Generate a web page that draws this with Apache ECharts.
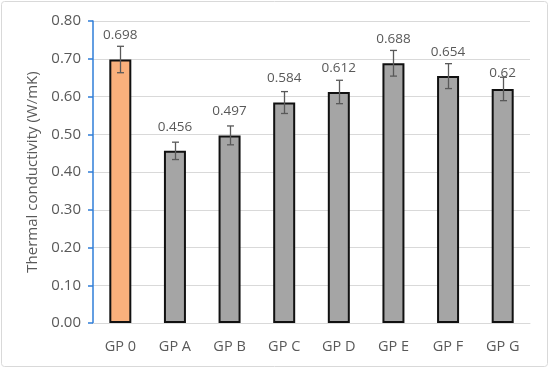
<!DOCTYPE html>
<html><head><meta charset="utf-8">
<script src="https://cdn.jsdelivr.net/npm/echarts@6/dist/echarts.min.js"></script>
<style>html,body{margin:0;padding:0;background:#fff}#c{width:550px;height:369px}</style>
</head><body><div id="c"></div>
<script>
var categories = ['GP 0','GP A','GP B','GP C','GP D','GP E','GP F','GP G'];
var values = [0.698, 0.456, 0.497, 0.584, 0.612, 0.688, 0.654, 0.62];
var errors = [0.035, 0.023, 0.025, 0.029, 0.031, 0.034, 0.033, 0.031];
var labelTexts = ['0.698','0.456','0.497','0.584','0.612','0.688','0.654','0.62'];
var yTicks = [0, 0.1, 0.2, 0.3, 0.4, 0.5, 0.6, 0.7, 0.8];

var chart = echarts.init(document.getElementById('c'), null, {renderer:'canvas'});
var font = 'Open Sans, Liberation Sans, sans-serif';
var barData = values.map(function(v,i){
  return {
    value: v,
    itemStyle: {color: i === 0 ? '#F9B07C' : '#A5A5A5'},
    label: {distance: i === 7 ? 9 : 17}
  };
});
chart.setOption({
  animation: false,
  graphic: [{type:'rect', shape:{x:1.5,y:1.5,width:546,height:365,r:3}, style:{fill:'none', stroke:'#D9D9D9', lineWidth:1}, silent:true}],
  grid: {left: 93, right: 20, top: 21, bottom: 46},
  xAxis: {
    type: 'category', data: categories,
    axisLine: {show: true, lineStyle: {color: '#D9D9D9', width: 1}},
    axisTick: {show: false},
    axisLabel: {color: '#595959', fontSize: 14.5, fontFamily: font, margin: 16}
  },
  yAxis: {
    type: 'value', min: 0, max: 0.8, interval: 0.1,
    name: 'Thermal conductivity (W/mK)', nameLocation: 'middle', nameGap: 51,
    nameTextStyle: {color: '#595959', fontSize: 15, fontFamily: font},
    axisLine: {show: true, lineStyle: {color: '#2F7ED8', width: 1.5}},
    axisTick: {show: true, length: 5, lineStyle: {color: '#2F7ED8', width: 1.5}},
    axisLabel: {color: '#595959', fontSize: 15, fontFamily: font, margin: 12,
      formatter: function(v){ return v.toFixed(2); }},
    splitLine: {lineStyle: {color: '#D9D9D9', width: 1}}
  },
  series: [{
    type: 'bar', data: barData, barWidth: 22,
    itemStyle: {borderColor: '#111', borderWidth: 2},
    label: {show: true, position: 'top', color: '#595959', fontSize: 13.5, fontFamily: font,
      formatter: function(p){ return labelTexts[p.dataIndex]; }},
    z: 2
  }, {
    type: 'custom', z: 5,
    data: values.map(function(v,i){ return [i, v - errors[i], v + errors[i]]; }),
    renderItem: function(params, api){
      var lo = api.coord([api.value(0), api.value(1)]);
      var hi = api.coord([api.value(0), api.value(2)]);
      var x = Math.round(lo[0]) + 0.5;
      var hw = 3.5;
      var st = {stroke: '#595959', lineWidth: 1.3};
      return {type: 'group', children: [
        {type:'line', shape:{x1:x, y1:lo[1], x2:x, y2:hi[1]}, style: st},
        {type:'line', shape:{x1:x-hw, y1:lo[1], x2:x+hw, y2:lo[1]}, style: st},
        {type:'line', shape:{x1:x-hw, y1:hi[1], x2:x+hw, y2:hi[1]}, style: st}
      ]};
    }
  }]
});
</script></body></html>
